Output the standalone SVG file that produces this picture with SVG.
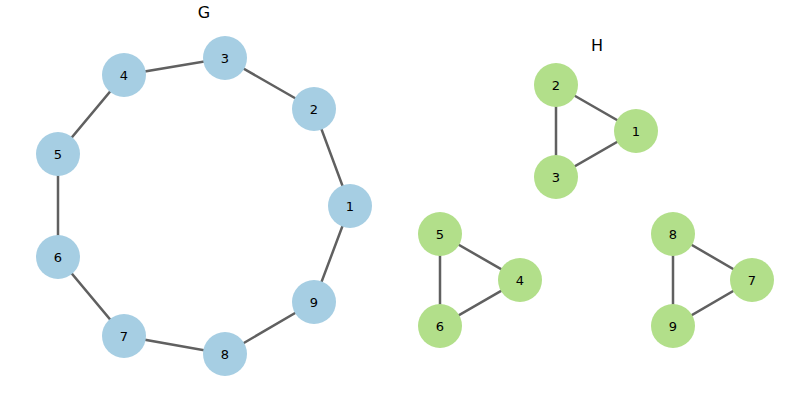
<svg xmlns="http://www.w3.org/2000/svg" width="800" height="400" viewBox="0 0 800 400">
<style>
.e{stroke:#606060;stroke-width:2.5;fill:none}
.b{fill:#a6cee3}
.g{fill:#b2df8a}
text{font-family:"DejaVu Sans",sans-serif;font-size:13px;text-anchor:middle;dominant-baseline:central;fill:#000}
.t{font-size:16px}
</style>
<rect width="800" height="400" fill="#fff"/>
<text class="t" x="204" y="12">G</text>
<text class="t" x="597" y="45">H</text>
<g id="connectors">
<path class="e" d="M350,206L314,109L225,58L124,75L58,154L58,257L124,336L225,354L314,302Z"/>
<path class="e" d="M556,85L636,131L556,177Z"/>
<path class="e" d="M440,234L520,280L440,326Z"/>
<path class="e" d="M673,234L752,280L673,326Z"/>
</g>
<g id="G1"><circle class="b" cx="350" cy="206" r="22"/><text x="350" y="206">1</text></g>
<g id="G2"><circle class="b" cx="314" cy="109" r="22"/><text x="314" y="109">2</text></g>
<g id="G3"><circle class="b" cx="225" cy="58" r="22"/><text x="225" y="58">3</text></g>
<g id="G4"><circle class="b" cx="124" cy="75" r="22"/><text x="124" y="75">4</text></g>
<g id="G5"><circle class="b" cx="58" cy="154" r="22"/><text x="58" y="154">5</text></g>
<g id="G6"><circle class="b" cx="58" cy="257" r="22"/><text x="58" y="257">6</text></g>
<g id="G7"><circle class="b" cx="124" cy="336" r="22"/><text x="124" y="336">7</text></g>
<g id="G8"><circle class="b" cx="225" cy="354" r="22"/><text x="225" y="354">8</text></g>
<g id="G9"><circle class="b" cx="314" cy="302" r="22"/><text x="314" y="302">9</text></g>
<g id="H1"><circle class="g" cx="636" cy="131" r="22"/><text x="636" y="131">1</text></g>
<g id="H2"><circle class="g" cx="556" cy="85" r="22"/><text x="556" y="85">2</text></g>
<g id="H3"><circle class="g" cx="556" cy="177" r="22"/><text x="556" y="177">3</text></g>
<g id="H4"><circle class="g" cx="520" cy="280" r="22"/><text x="520" y="280">4</text></g>
<g id="H5"><circle class="g" cx="440" cy="234" r="22"/><text x="440" y="234">5</text></g>
<g id="H6"><circle class="g" cx="440" cy="326" r="22"/><text x="440" y="326">6</text></g>
<g id="H7"><circle class="g" cx="752" cy="280" r="22"/><text x="752" y="280">7</text></g>
<g id="H8"><circle class="g" cx="673" cy="234" r="22"/><text x="673" y="234">8</text></g>
<g id="H9"><circle class="g" cx="673" cy="326" r="22"/><text x="673" y="326">9</text></g>
</svg>
